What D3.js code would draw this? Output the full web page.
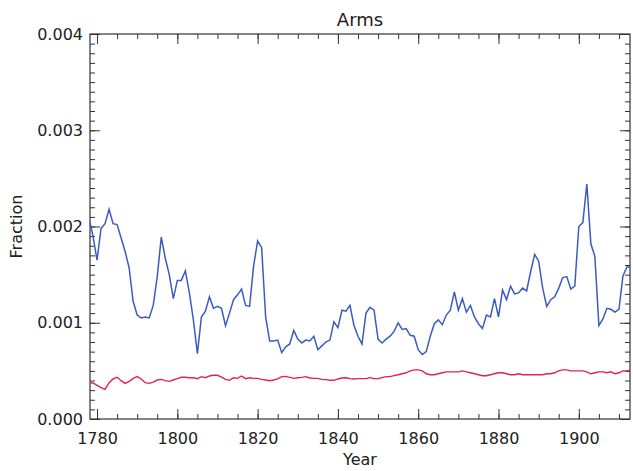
<!DOCTYPE html>
<html>
<head>
<meta charset="utf-8">
<script src="https://cdn.jsdelivr.net/npm/d3@7"></script>
<style>
  html, body { margin: 0; padding: 0; background: #fff; }
  svg { display: block; }
  text { font-family: "DejaVu Sans", sans-serif; fill: #222; }
</style>
</head>
<body>
<svg id="chart" width="633" height="471"></svg>
<script>
const title = "Arms";
const xLabel = "Year";
const yLabel = "Fraction";
const startYear = 1778;
const xMajorTicks = [1780, 1800, 1820, 1840, 1860, 1880, 1900];
const yMajorTicks = [0, 0.001, 0.002, 0.003, 0.004];

const blueValues = [
  0.00209, 0.00190, 0.00165, 0.00198, 0.00203, 0.00218, 0.00203, 0.00202, 0.00188, 0.00174,
  0.00157, 0.00122, 0.00108, 0.00105, 0.00106, 0.00105, 0.00118, 0.00148, 0.00189, 0.00167,
  0.00150, 0.00125, 0.00144, 0.00144, 0.00154, 0.00131, 0.00103, 0.00068, 0.00106, 0.00112,
  0.00127, 0.00115, 0.00117, 0.00115, 0.00097, 0.00110, 0.00124, 0.00129, 0.00135, 0.00118,
  0.00117, 0.00159, 0.00185, 0.00178, 0.00106, 0.00081, 0.00081, 0.00082, 0.00069, 0.00075,
  0.00078, 0.00092, 0.00083, 0.00079, 0.00082, 0.00081, 0.00086, 0.00072, 0.00076, 0.00080,
  0.00082, 0.00101, 0.00095, 0.00113, 0.00112, 0.00118, 0.00097, 0.00086, 0.00078, 0.00110,
  0.00116, 0.00113, 0.00083, 0.00079, 0.00083, 0.00086, 0.00091, 0.00100, 0.00093, 0.00094,
  0.00087, 0.00086, 0.00072, 0.00067, 0.00070, 0.00086, 0.00099, 0.00103, 0.00098, 0.00108,
  0.00113, 0.00132, 0.00113, 0.00125, 0.00111, 0.00118, 0.00106, 0.00099, 0.00094, 0.00108,
  0.00106, 0.00125, 0.00106, 0.00134, 0.00124, 0.00138, 0.00130, 0.00131, 0.00136, 0.00133,
  0.00153, 0.00171, 0.00164, 0.00136, 0.00117, 0.00124, 0.00127, 0.00136, 0.00147, 0.00148,
  0.00135, 0.00138, 0.00200, 0.00204, 0.00244, 0.00182, 0.00169, 0.00097, 0.00104, 0.00115,
  0.00114, 0.00111, 0.00114, 0.00149, 0.00158, 0.00158
];

const redValues = [
  0.000377, 0.000374, 0.000350, 0.000325, 0.000308, 0.000377, 0.000416, 0.000433, 0.000398, 0.000370,
  0.000391, 0.000422, 0.000440, 0.000416, 0.000377, 0.000370, 0.000384, 0.000405, 0.000412, 0.000398,
  0.000391, 0.000405, 0.000419, 0.000433, 0.000433, 0.000429, 0.000429, 0.000419, 0.000440, 0.000429,
  0.000447, 0.000454, 0.000454, 0.000436, 0.000412, 0.000402, 0.000429, 0.000422, 0.000447, 0.000419,
  0.000429, 0.000422, 0.000422, 0.000412, 0.000405, 0.000398, 0.000405, 0.000416, 0.000440, 0.000443,
  0.000433, 0.000422, 0.000429, 0.000433, 0.000440, 0.000426, 0.000422, 0.000422, 0.000412, 0.000409,
  0.000402, 0.000402, 0.000416, 0.000426, 0.000429, 0.000419, 0.000416, 0.000419, 0.000420, 0.000420,
  0.000430, 0.000420, 0.000420, 0.000430, 0.000440, 0.000440, 0.000450, 0.000460, 0.000470, 0.000480,
  0.000500, 0.000510, 0.000510, 0.000500, 0.000470, 0.000460, 0.000460, 0.000470, 0.000480, 0.000490,
  0.000490, 0.000490, 0.000490, 0.000500, 0.000490, 0.000480, 0.000470, 0.000460, 0.000450, 0.000450,
  0.000460, 0.000470, 0.000480, 0.000480, 0.000470, 0.000460, 0.000460, 0.000470, 0.000460, 0.000460,
  0.000460, 0.000460, 0.000460, 0.000460, 0.000470, 0.000470, 0.000480, 0.000500, 0.000510, 0.000510,
  0.000500, 0.000500, 0.000500, 0.000500, 0.000490, 0.000470, 0.000480, 0.000490, 0.000490, 0.000480,
  0.000490, 0.000470, 0.000480, 0.000500, 0.000500, 0.000510
];

const svg = d3.select("#chart");
const mLeft = 90, mRight = 630, mTop = 34, mBottom = 419;

const x = d3.scaleLinear().domain([1778.25, 1912.75]).range([mLeft, mRight]);
const y = d3.scaleLinear().domain([0, 0.004]).range([mBottom, mTop]);

const axisColor = "#333";

svg.append("defs").append("clipPath").attr("id", "clip")
  .append("rect").attr("x", mLeft).attr("y", mTop).attr("width", mRight - mLeft).attr("height", mBottom - mTop);

const xMinor = d3.range(1780, 1913, 5);
const yMinor = d3.range(0, 41).map(i => i * 0.0001);

function styleAxis(g) {
  g.select(".domain").remove();
  g.selectAll(".tick line").attr("stroke", axisColor).attr("stroke-width", 1);
}

// bottom
svg.append("g").attr("transform", `translate(0,${mBottom})`)
  .call(d3.axisBottom(x).tickValues(xMinor).tickSize(-5).tickFormat(""))
  .call(styleAxis);
const xb = svg.append("g").attr("transform", `translate(0,${mBottom})`)
  .call(d3.axisBottom(x).tickValues(xMajorTicks).tickSize(-10).tickPadding(14).tickFormat(d3.format("d")))
  .call(styleAxis);
xb.selectAll(".tick text").attr("font-size", 16).attr("font-family", "DejaVu Sans").attr("fill", "#222");

// top
svg.append("g").attr("transform", `translate(0,${mTop})`)
  .call(d3.axisTop(x).tickValues(xMinor).tickSize(-5).tickFormat(""))
  .call(styleAxis);
svg.append("g").attr("transform", `translate(0,${mTop})`)
  .call(d3.axisTop(x).tickValues(xMajorTicks).tickSize(-10).tickFormat(""))
  .call(styleAxis);

// left
svg.append("g").attr("transform", `translate(${mLeft},0)`)
  .call(d3.axisLeft(y).tickValues(yMinor).tickSize(-5).tickFormat(""))
  .call(styleAxis);
const yl = svg.append("g").attr("transform", `translate(${mLeft},0)`)
  .call(d3.axisLeft(y).tickValues(yMajorTicks).tickSize(-10).tickPadding(7).tickFormat(d3.format(".3f")))
  .call(styleAxis);
yl.selectAll(".tick text").attr("font-size", 16).attr("font-family", "DejaVu Sans").attr("fill", "#222");

// right
svg.append("g").attr("transform", `translate(${mRight},0)`)
  .call(d3.axisRight(y).tickValues(yMinor).tickSize(-5).tickFormat(""))
  .call(styleAxis);
svg.append("g").attr("transform", `translate(${mRight},0)`)
  .call(d3.axisRight(y).tickValues(yMajorTicks).tickSize(-10).tickFormat(""))
  .call(styleAxis);

// frame
svg.append("rect").attr("x", mLeft).attr("y", mTop).attr("width", mRight - mLeft).attr("height", mBottom - mTop)
  .attr("fill", "none").attr("stroke", axisColor).attr("stroke-width", 1.2);

const line = d3.line().x((d, i) => x(startYear + i)).y(d => y(d));

svg.append("path").datum(redValues).attr("clip-path", "url(#clip)")
  .attr("fill", "none").attr("stroke", "#e3234f").attr("stroke-width", 1.4).attr("d", line);
svg.append("path").datum(blueValues).attr("clip-path", "url(#clip)")
  .attr("fill", "none").attr("stroke", "#3a5cc0").attr("stroke-width", 1.5).attr("d", line);

svg.append("text").attr("x", (mLeft + mRight) / 2).attr("y", 26).attr("text-anchor", "middle")
  .attr("font-size", 18).text(title);
svg.append("text").attr("x", (mLeft + mRight) / 2).attr("y", 465).attr("text-anchor", "middle")
  .attr("font-size", 16).text(xLabel);
svg.append("text").attr("transform", `translate(22,${(mTop + mBottom) / 2}) rotate(-90)`)
  .attr("text-anchor", "middle").attr("font-size", 16).text(yLabel);
</script>
</body>
</html>
